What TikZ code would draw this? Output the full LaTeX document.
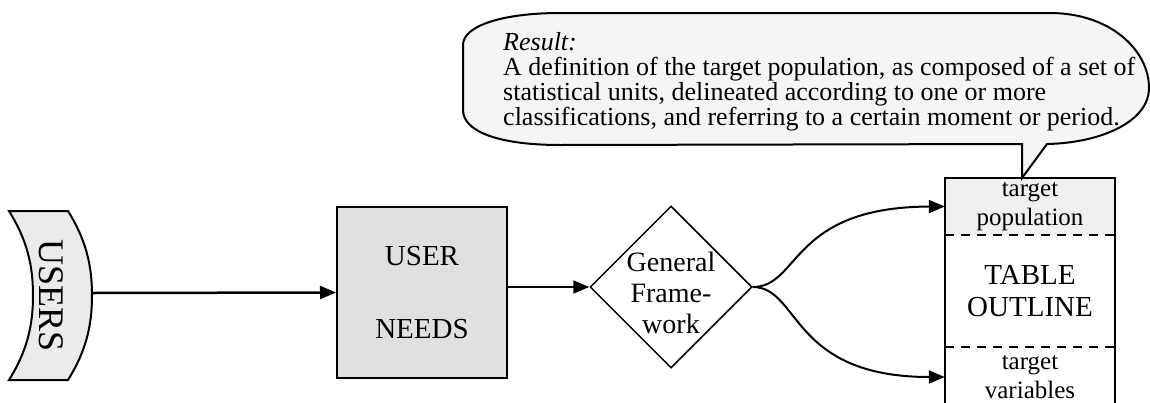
\documentclass[tikz,border=0pt]{standalone}
\usepackage{fontspec}
\setmainfont{Liberation Serif}
\usepackage{xcolor}
\usetikzlibrary{shapes.geometric,arrows.meta}

\begin{document}
\begin{tikzpicture}[x=1pt,y=-1pt,
  arr/.style={line width=2pt,-{Triangle[length=16pt,width=13pt]}},
  cell/.style={minimum width=170pt,inner sep=0pt,align=center,font=\fontsize{25}{29}\selectfont},
  sep/.style={line width=1.6pt,dash pattern=on 9pt off 7pt}]
%\draw[help lines](0,0)grid[step=50](1150,402);
\useasboundingbox (0,0) rectangle (1150,402);
\clip (0,0) rectangle (1150,402);
% users
\filldraw[fill=black!8,line width=2pt] (9,211)--(68,211) .. controls (86,240) and (92,265) .. (92,295.5) .. controls (92,326) and (86,351) .. (68,380)--(9,380) .. controls (27,351) and (33,326) .. (33,295.5) .. controls (33,265) and (27,240) .. (9,211)--cycle;
\node[font=\fontsize{36}{36}\selectfont,rotate=-90] (users) at (51,295.5) {USERS};
\coordinate (usersR) at (92,293);
% needs and framework
\node[draw,fill=black!12,line width=2pt,minimum width=170pt,minimum height=171pt,inner sep=0pt,align=center,font=\fontsize{29}{29}\selectfont] (needs) at (422,292.5) {USER\\[44pt]NEEDS};
\node[diamond,draw,line width=1.5pt,minimum width=162pt,minimum height=162pt,inner sep=0pt] (frame) at (671,287) {};
\node[font=\fontsize{28}{31}\selectfont,align=center,inner sep=0pt] (frametext) at (671,293) {General\\Frame-\\work};
% table outline
\node[cell,fill=black!6,minimum height=57pt] (pop) at (1030,206.5) {target\\population};
\node[cell,minimum height=112pt,font=\fontsize{29}{32}\selectfont] (outline) at (1030,291) {TABLE\\OUTLINE};
\node[cell,minimum height=60pt] (vars) at (1030,377) {target\\variables};
\draw[line width=2pt] (vars.south west)--(pop.north west)--(pop.north east)--(vars.south east);
\draw[sep] (pop.south west)--(pop.south east);
\draw[sep] (outline.south west)--(outline.south east);
% callout
\filldraw[fill=black!4,line width=2pt] (560,13)--(1050,13) .. controls (1110,13) and (1149,50) .. (1149,88) .. controls (1149,122) and (1100,143) .. (1047,144)--(1022,178)--(1022,144)--(560,145) .. controls (500,145) and (463,132) .. (463,110)--(463,45) .. controls (463,25) and (505,13) .. (560,13)--cycle;
\node[anchor=north west,align=left,inner sep=0pt,font=\fontsize{26}{25}\selectfont] (result) at (503,32) {\textit{Result:}\\A definition of the target population, as composed of a set of\\statistical units, delineated according to one or more\\classifications, and referring to a certain moment or period.};
% arrows
\draw[arr,line width=2.5pt] (usersR)--(needs.west);
\draw[arr,line width=1.6pt] (needs.east |- frame.west)--(frame.west);
\draw[arr] (frame.east) .. controls (800,287) and (790,207) .. (pop.west);
\draw[arr] (frame.east) .. controls (800,287) and (790,377) .. (vars.west);

\end{tikzpicture}
\end{document}
